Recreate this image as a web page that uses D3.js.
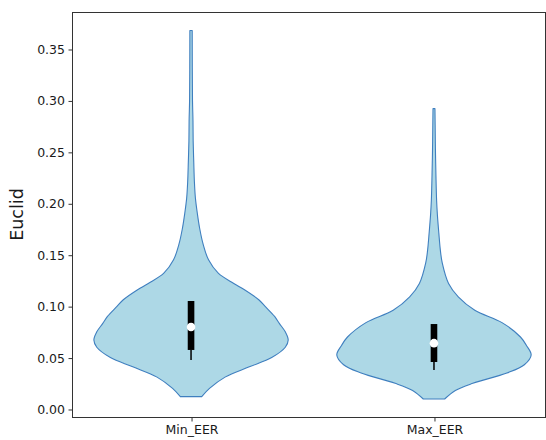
<!DOCTYPE html>
<html>
<head>
<meta charset="utf-8">
<script src="https://cdn.jsdelivr.net/npm/d3@7"></script>
<style>
  html, body { margin: 0; padding: 0; background: #fff; }
  svg { display: block; font-family: "DejaVu Sans", sans-serif; }
</style>
</head>
<body>
<svg id="chart" width="546" height="440"></svg>
<script>
// ---- data ----
const categories = ["Min_EER", "Max_EER"];
const yTicks = [0.00, 0.05, 0.10, 0.15, 0.20, 0.25, 0.30, 0.35];

// violin profiles: value and relative density width (1 = widest)
const minValues  = [0.012, 0.020, 0.031, 0.041, 0.050, 0.060, 0.067, 0.075, 0.083, 0.090, 0.100, 0.106, 0.116, 0.122, 0.132, 0.145, 0.160, 0.175, 0.190, 0.205, 0.220, 0.240, 0.260, 0.280, 0.300, 0.330, 0.368];
const minDensity = [0.11, 0.19, 0.35, 0.60, 0.83, 0.97, 1.00, 0.97, 0.91, 0.86, 0.76, 0.70, 0.55, 0.44, 0.28, 0.18, 0.125, 0.09, 0.065, 0.045, 0.035, 0.028, 0.022, 0.02, 0.015, 0.013, 0.012];

const maxValues  = [0.0097, 0.018, 0.025, 0.035, 0.043, 0.0525, 0.062, 0.070, 0.084, 0.096, 0.109, 0.122, 0.142, 0.155, 0.171, 0.189, 0.203, 0.228, 0.252, 0.276, 0.292];
const maxDensity = [0.11, 0.22, 0.40, 0.75, 0.93, 1.00, 0.95, 0.89, 0.70, 0.42, 0.25, 0.15, 0.085, 0.065, 0.05, 0.035, 0.027, 0.02, 0.015, 0.012, 0.01];

// inner box stats: [whiskerLow, q1, median, q3]
const minStats = [0.0476, 0.0574, 0.0797, 0.105];
const maxStats = [0.038, 0.0457, 0.064, 0.0826];

// ---- layout ----
const svg = d3.select("#chart");
const mLeft = 72, mRight = 545, mTop = 12, mBottom = 417;

const x = d3.scaleLinear().domain([0.51, 2.457]).range([mLeft, mRight]);
const y = d3.scaleLinear().domain([-0.00778, 0.38597]).range([mBottom, mTop]);
const halfWidth = 0.4; // in x units

const series = [
  { pos: 1, values: minValues, density: minDensity, stats: minStats },
  { pos: 2, values: maxValues, density: maxDensity, stats: maxStats }
];

// violins
series.forEach(s => {
  const pts = s.values.map((v, i) => ({ v, d: s.density[i] }));
  const area = d3.area()
    .y(p => y(p.v))
    .x0(p => x(s.pos - p.d * halfWidth))
    .x1(p => x(s.pos + p.d * halfWidth))
    .curve(d3.curveCatmullRom.alpha(0.5));
  svg.append("path")
    .attr("d", area(pts))
    .attr("fill", "#add8e6")
    .attr("stroke", "#3f7fbf")
    .attr("stroke-width", 1.1)
    .attr("stroke-linejoin", "round");

  const cx = x(s.pos);
  const [wl, q1, med, q3] = s.stats;
  svg.append("line")
    .attr("x1", cx).attr("x2", cx)
    .attr("y1", y(wl)).attr("y2", y(q1))
    .attr("stroke", "#000").attr("stroke-width", 1.5);
  svg.append("rect")
    .attr("x", cx - 3.3).attr("width", 6.6)
    .attr("y", y(q3)).attr("height", y(q1) - y(q3))
    .attr("fill", "#000");
  svg.append("circle")
    .attr("cx", cx).attr("cy", y(med)).attr("r", 4.3)
    .attr("fill", "#fff");
});

// frame
svg.append("rect")
  .attr("x", mLeft + 0.5).attr("y", mTop + 0.5)
  .attr("width", mRight - mLeft).attr("height", mBottom - mTop)
  .attr("fill", "none").attr("stroke", "#333").attr("stroke-width", 1);

// y axis
const yAxis = svg.append("g").attr("transform", `translate(${mLeft + 0.5},0.5)`)
  .call(d3.axisLeft(y).tickValues(yTicks).tickFormat(d3.format(".2f")).tickSize(4).tickPadding(3.5));
yAxis.select(".domain").remove();
yAxis.selectAll("line").attr("stroke", "#333");
yAxis.selectAll("text").attr("font-size", 12.5).attr("fill", "#1a1a1a")
  .attr("font-family", "DejaVu Sans, sans-serif");

// x axis
const xAxis = svg.append("g").attr("transform", `translate(0.5,${mBottom + 0.5})`)
  .call(d3.axisBottom(x).tickValues([1, 2]).tickFormat((d, i) => categories[i]).tickSize(4).tickPadding(3.5));
xAxis.select(".domain").remove();
xAxis.selectAll("line").attr("stroke", "#333");
xAxis.selectAll("text").attr("font-size", 12.5).attr("fill", "#1a1a1a")
  .attr("font-family", "DejaVu Sans, sans-serif");

// y label
svg.append("text")
  .attr("transform", `translate(23,${(mTop + mBottom) / 2}) rotate(-90)`)
  .attr("text-anchor", "middle")
  .attr("font-size", 17.5)
  .attr("fill", "#1a1a1a")
  .text("Euclid");
</script>
</body>
</html>
